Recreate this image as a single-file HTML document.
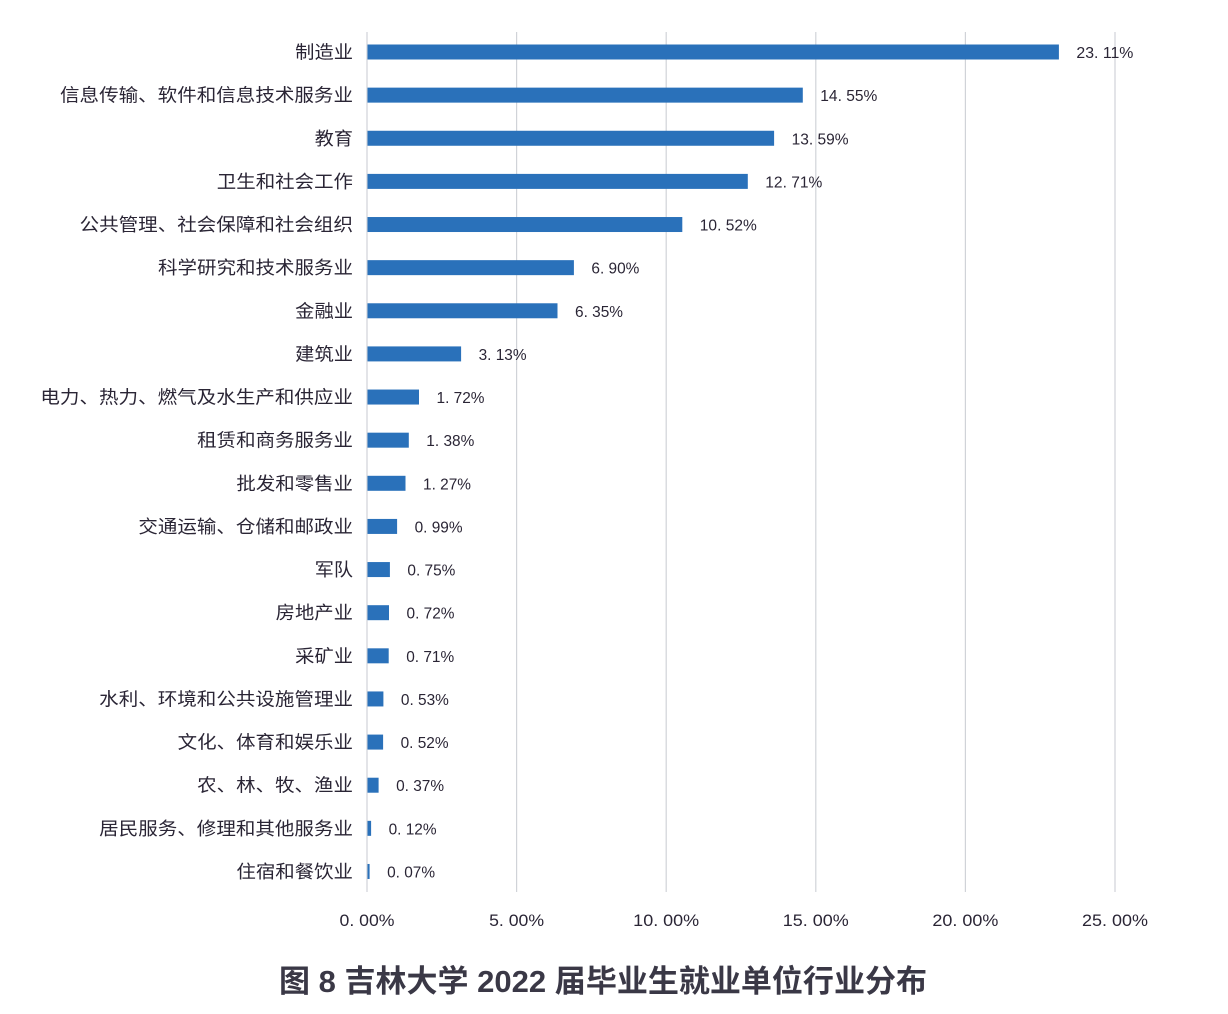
<!DOCTYPE html>
<html><head><meta charset="utf-8"><style>
html,body{margin:0;padding:0;background:#fff;}
svg{display:block;}
</style></head><body>
<svg width="1228" height="1014" viewBox="0 0 1228 1014" xmlns="http://www.w3.org/2000/svg">
<rect width="1228" height="1014" fill="#fff"/>
<g stroke="#d0d3d8" stroke-width="1.2">
<line x1="367" y1="32" x2="367" y2="892"/>
<line x1="516.6" y1="32" x2="516.6" y2="892"/>
<line x1="666.2" y1="32" x2="666.2" y2="892"/>
<line x1="815.8" y1="32" x2="815.8" y2="892"/>
<line x1="965.4" y1="32" x2="965.4" y2="892"/>
<line x1="1115" y1="32" x2="1115" y2="892"/>
</g>
<g fill="#2a71ba">
<rect x="367.5" y="44.5" width="691.4" height="15"/>
<rect x="367.5" y="87.63" width="435.3" height="15"/>
<rect x="367.5" y="130.76" width="406.6" height="15"/>
<rect x="367.5" y="173.89" width="380.3" height="15"/>
<rect x="367.5" y="217.02" width="314.8" height="15"/>
<rect x="367.5" y="260.15" width="206.4" height="15"/>
<rect x="367.5" y="303.28" width="190.0" height="15"/>
<rect x="367.5" y="346.41" width="93.6" height="15"/>
<rect x="367.5" y="389.54" width="51.5" height="15"/>
<rect x="367.5" y="432.67" width="41.3" height="15"/>
<rect x="367.5" y="475.8" width="38.0" height="15"/>
<rect x="367.5" y="518.93" width="29.6" height="15"/>
<rect x="367.5" y="562.06" width="22.4" height="15"/>
<rect x="367.5" y="605.19" width="21.5" height="15"/>
<rect x="367.5" y="648.32" width="21.2" height="15"/>
<rect x="367.5" y="691.45" width="15.9" height="15"/>
<rect x="367.5" y="734.58" width="15.6" height="15"/>
<rect x="367.5" y="777.71" width="11.1" height="15"/>
<rect x="367.5" y="820.84" width="3.6" height="15"/>
<rect x="367.5" y="863.97" width="2.1" height="15"/>
</g>
<g font-family="'Liberation Sans','Noto Sans CJK SC',sans-serif" fill="#2a2535" font-size="18" text-anchor="end" lengthAdjust="spacingAndGlyphs">
<text x="353" y="58.5" textLength="57.8" lengthAdjust="spacingAndGlyphs">制造业</text>
<text x="353" y="101.63" textLength="293" lengthAdjust="spacingAndGlyphs">信息传输、软件和信息技术服务业</text>
<text x="353" y="144.76" textLength="38.2" lengthAdjust="spacingAndGlyphs">教育</text>
<text x="353" y="187.89" textLength="136.2" lengthAdjust="spacingAndGlyphs">卫生和社会工作</text>
<text x="353" y="231.02" textLength="273.4" lengthAdjust="spacingAndGlyphs">公共管理、社会保障和社会组织</text>
<text x="353" y="274.15" textLength="195" lengthAdjust="spacingAndGlyphs">科学研究和技术服务业</text>
<text x="353" y="317.28" textLength="57.8" lengthAdjust="spacingAndGlyphs">金融业</text>
<text x="353" y="360.41" textLength="57.8" lengthAdjust="spacingAndGlyphs">建筑业</text>
<text x="353" y="403.54" textLength="312.6" lengthAdjust="spacingAndGlyphs">电力、热力、燃气及水生产和供应业</text>
<text x="353" y="446.67" textLength="155.8" lengthAdjust="spacingAndGlyphs">租赁和商务服务业</text>
<text x="353" y="489.8" textLength="116.6" lengthAdjust="spacingAndGlyphs">批发和零售业</text>
<text x="353" y="532.93" textLength="214.6" lengthAdjust="spacingAndGlyphs">交通运输、仓储和邮政业</text>
<text x="353" y="576.06" textLength="38.2" lengthAdjust="spacingAndGlyphs">军队</text>
<text x="353" y="619.19" textLength="77.4" lengthAdjust="spacingAndGlyphs">房地产业</text>
<text x="353" y="662.32" textLength="57.8" lengthAdjust="spacingAndGlyphs">采矿业</text>
<text x="353" y="705.45" textLength="253.8" lengthAdjust="spacingAndGlyphs">水利、环境和公共设施管理业</text>
<text x="353" y="748.58" textLength="175.4" lengthAdjust="spacingAndGlyphs">文化、体育和娱乐业</text>
<text x="353" y="791.71" textLength="155.8" lengthAdjust="spacingAndGlyphs">农、林、牧、渔业</text>
<text x="353" y="834.84" textLength="253.8" lengthAdjust="spacingAndGlyphs">居民服务、修理和其他服务业</text>
<text x="353" y="877.97" textLength="116.6" lengthAdjust="spacingAndGlyphs">住宿和餐饮业</text>
</g>
<g font-family="'Liberation Sans','Noto Sans CJK SC',sans-serif" fill="#2a2535" font-size="16">
<text x="1076.4" y="58" textLength="57" lengthAdjust="spacingAndGlyphs">23. 11%</text>
<text x="820.3" y="101.13" textLength="57" lengthAdjust="spacingAndGlyphs">14. 55%</text>
<text x="791.6" y="144.26" textLength="57" lengthAdjust="spacingAndGlyphs">13. 59%</text>
<text x="765.3" y="187.39" textLength="57" lengthAdjust="spacingAndGlyphs">12. 71%</text>
<text x="699.8" y="230.52" textLength="57" lengthAdjust="spacingAndGlyphs">10. 52%</text>
<text x="591.4" y="273.65" textLength="48" lengthAdjust="spacingAndGlyphs">6. 90%</text>
<text x="575.0" y="316.78" textLength="48" lengthAdjust="spacingAndGlyphs">6. 35%</text>
<text x="478.6" y="359.91" textLength="48" lengthAdjust="spacingAndGlyphs">3. 13%</text>
<text x="436.5" y="403.04" textLength="48" lengthAdjust="spacingAndGlyphs">1. 72%</text>
<text x="426.3" y="446.17" textLength="48" lengthAdjust="spacingAndGlyphs">1. 38%</text>
<text x="423.0" y="489.3" textLength="48" lengthAdjust="spacingAndGlyphs">1. 27%</text>
<text x="414.6" y="532.43" textLength="48" lengthAdjust="spacingAndGlyphs">0. 99%</text>
<text x="407.4" y="575.56" textLength="48" lengthAdjust="spacingAndGlyphs">0. 75%</text>
<text x="406.5" y="618.69" textLength="48" lengthAdjust="spacingAndGlyphs">0. 72%</text>
<text x="406.2" y="661.82" textLength="48" lengthAdjust="spacingAndGlyphs">0. 71%</text>
<text x="400.9" y="704.95" textLength="48" lengthAdjust="spacingAndGlyphs">0. 53%</text>
<text x="400.6" y="748.08" textLength="48" lengthAdjust="spacingAndGlyphs">0. 52%</text>
<text x="396.1" y="791.21" textLength="48" lengthAdjust="spacingAndGlyphs">0. 37%</text>
<text x="388.6" y="834.34" textLength="48" lengthAdjust="spacingAndGlyphs">0. 12%</text>
<text x="387.1" y="877.47" textLength="48" lengthAdjust="spacingAndGlyphs">0. 07%</text>
</g>
<g font-family="'Liberation Sans','Noto Sans CJK SC',sans-serif" fill="#2a2535" font-size="17" text-anchor="middle">
<text x="367" y="926" textLength="55" lengthAdjust="spacingAndGlyphs">0. 00%</text>
<text x="516.6" y="926" textLength="55" lengthAdjust="spacingAndGlyphs">5. 00%</text>
<text x="666.2" y="926" textLength="66" lengthAdjust="spacingAndGlyphs">10. 00%</text>
<text x="815.8" y="926" textLength="66" lengthAdjust="spacingAndGlyphs">15. 00%</text>
<text x="965.4" y="926" textLength="66" lengthAdjust="spacingAndGlyphs">20. 00%</text>
<text x="1115" y="926" textLength="66" lengthAdjust="spacingAndGlyphs">25. 00%</text>
</g>
<text x="603" y="992" text-anchor="middle" font-family="'Liberation Sans','Noto Sans CJK SC',sans-serif" font-weight="bold" font-size="31" fill="#3a3846" textLength="648" lengthAdjust="spacingAndGlyphs">图 8 吉林大学 2022 届毕业生就业单位行业分布</text>
</svg>
</body></html>
